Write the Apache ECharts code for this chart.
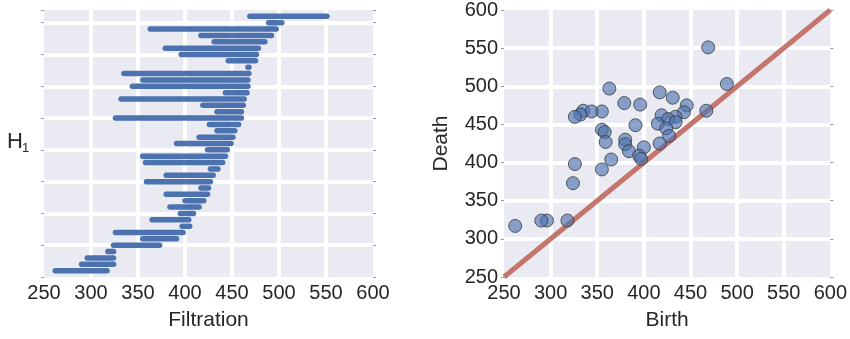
<!DOCTYPE html>
<html>
<head>
<meta charset="utf-8">
<script src="https://cdn.jsdelivr.net/npm/echarts@6/dist/echarts.min.js"></script>
<style>
  html, body { margin: 0; padding: 0; background: #fff; }
  #chart { width: 850px; height: 339px; }
</style>
</head>
<body>
<div id="chart"></div>
<script>
// H1 persistence intervals, ordered as drawn in the barcode (top to bottom)
const births = [469, 489, 363, 417, 431, 379, 396, 446, 467, 335, 355, 344, 443, 332, 419, 434, 326, 426, 434, 415,
                391, 424, 355, 358, 427, 380, 359, 417, 380, 400, 384, 395, 365, 397, 326, 355, 324, 318, 296, 290, 262];
const deaths = [551, 503, 497, 492, 485, 478, 476, 475, 468, 468, 467, 467, 466, 463, 462, 460, 460, 457, 453, 451,
                449, 445, 443, 440, 435, 430, 427, 425, 424, 420, 415, 409, 404, 405, 398, 391, 373, 324, 324, 324, 317];
// Shared filtration scale and the diagonal birth = death
const filtrationTicks = [250, 300, 350, 400, 450, 500, 550, 600];
const diagonal = [250, 600];

const TEXT = '#262626';
const FONT = 'Liberation Sans, Arial, Helvetica, sans-serif';
const BLUE = '#4C72B0';

const barRows = births.map((b, i) => [b, deaths[i], births.length - i]);
const points = births.map((b, i) => [b, deaths[i]]);

const tickMin = filtrationTicks[0];
const tickMax = filtrationTicks[filtrationTicks.length - 1];
const tickStep = filtrationTicks[1] - filtrationTicks[0];

const splitLine = { show: true, showMinLine: false, showMaxLine: false, lineStyle: { color: '#ffffff', width: 4 } };
const smallTick = { show: true, length: 3, lineStyle: { color: '#9a9a9a', width: 1 } };

function xAxis(gridIndex, name) {
  return {
    gridIndex, type: 'value', min: tickMin, max: tickMax, interval: tickStep,
    axisLine: { show: false }, axisTick: { show: false },
    axisLabel: { fontSize: 20, color: TEXT, fontFamily: FONT, margin: 6 },
    splitLine,
    name, nameLocation: 'middle', nameGap: 33,
    nameTextStyle: { fontSize: 21, color: TEXT, fontFamily: FONT }
  };
}

const chart = echarts.init(document.getElementById('chart'), null, { renderer: 'canvas' });
chart.setOption({
  animation: false,
  backgroundColor: '#ffffff',
  grid: [
    { left: 44, top: 10, width: 329, height: 267, show: true, backgroundColor: '#EAEAF2', borderWidth: 0 },
    { left: 504, top: 10, width: 328, height: 267, show: true, backgroundColor: '#EAEAF2', borderWidth: 0 }
  ],
  xAxis: [xAxis(0, 'Filtration'), xAxis(1, 'Birth')],
  yAxis: [
    { gridIndex: 0, type: 'value', min: 0, max: births.length + 1, interval: 5, position: 'left',
      axisLine: { show: false }, axisTick: smallTick, axisLabel: { show: false }, splitLine },
    { gridIndex: 0, type: 'value', min: 0, max: births.length + 1, interval: 5, position: 'right',
      axisLine: { show: false }, axisTick: smallTick, axisLabel: { show: false }, splitLine: { show: false } },
    { gridIndex: 1, type: 'value', min: tickMin, max: tickMax, interval: tickStep, position: 'left',
      axisLine: { show: false }, axisTick: smallTick,
      axisLabel: { fontSize: 20, color: TEXT, fontFamily: FONT, margin: 6 },
      splitLine,
      name: 'Death', nameLocation: 'middle', nameRotate: 90, nameGap: 52,
      nameTextStyle: { fontSize: 21, color: TEXT, fontFamily: FONT } },
    { gridIndex: 1, type: 'value', min: tickMin, max: tickMax, interval: tickStep, position: 'right',
      axisLine: { show: false }, axisTick: smallTick, axisLabel: { show: false }, splitLine: { show: false } }
  ],
  graphic: [
    { type: 'text', left: 7, top: 131, style: { text: 'H', fontSize: 22, fill: TEXT, fontFamily: FONT } },
    { type: 'text', left: 22, top: 142, style: { text: '1', fontSize: 13, fill: TEXT, fontFamily: FONT } }
  ],
  series: [
    {
      // barcode: one rounded segment per interval
      type: 'custom', xAxisIndex: 0, yAxisIndex: 0,
      data: barRows,
      encode: { x: [0, 1], y: 2 },
      clip: false,
      renderItem(params, api) {
        const a = api.coord([api.value(0), api.value(2)]);
        const b = api.coord([api.value(1), api.value(2)]);
        return {
          type: 'line',
          shape: { x1: a[0], y1: a[1], x2: b[0], y2: b[1] },
          style: { stroke: BLUE, lineWidth: 5.5, lineCap: 'round' }
        };
      }
    },
    {
      type: 'line', xAxisIndex: 1, yAxisIndex: 2,
      data: [[diagonal[0], diagonal[0]], [diagonal[1], diagonal[1]]],
      showSymbol: false, z: 1,
      lineStyle: { color: '#C4766D', width: 5 }
    },
    {
      type: 'scatter', xAxisIndex: 1, yAxisIndex: 2, z: 3,
      data: points, symbolSize: 13,
      itemStyle: { color: 'rgba(76,114,176,0.8)', borderColor: '#3a3a3a', borderWidth: 1 }
    }
  ]
});
</script>
</body>
</html>
